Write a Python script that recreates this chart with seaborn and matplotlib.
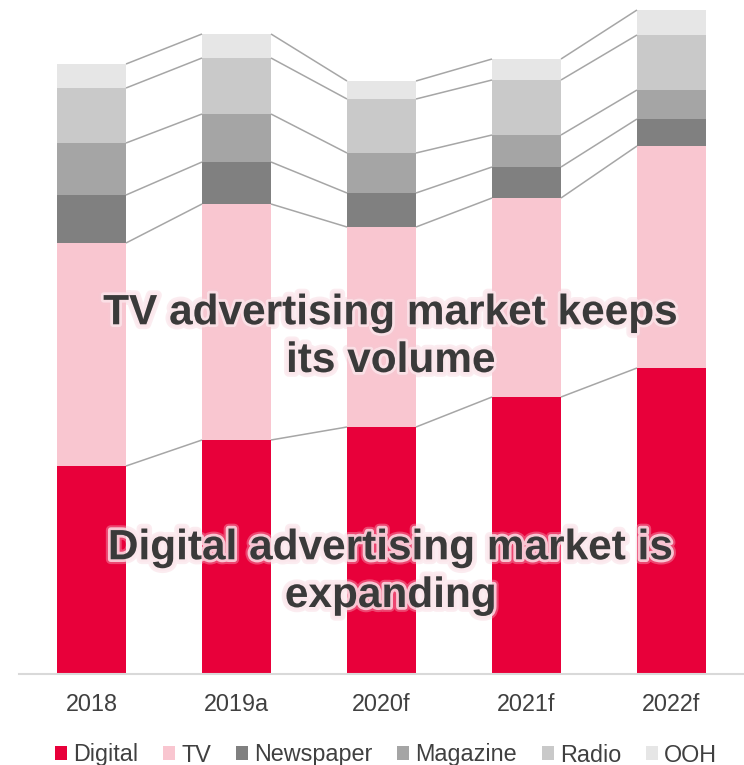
import matplotlib
matplotlib.use("Agg")
import matplotlib.pyplot as plt
import matplotlib.patheffects as pe
from matplotlib.patches import Patch
import numpy as np
import pandas as pd
import seaborn as sns

# Advertising spend by media (stacked), years with actual/forecast flags
years = ["2018", "2019a", "2020f", "2021f", "2022f"]
series_names = ["Digital", "TV", "Newspaper", "Magazine", "Radio", "OOH"]
digital = [20.8, 23.4, 24.7, 27.7, 30.6]
tv = [22.3, 23.6, 20.0, 19.9, 22.2]
newspaper = [4.8, 4.2, 3.4, 3.1, 2.7]
magazine = [5.2, 4.8, 4.0, 3.2, 2.9]
radio = [5.5, 5.6, 5.4, 5.5, 5.5]
ooh = [2.4, 2.4, 1.8, 2.1, 2.5]

colors = ["#E8003A", "#F9C6D0", "#808080", "#A5A5A5", "#C9C9C9", "#E6E6E6"]
annot_tv = "TV advertising market keeps\nits volume"
annot_digital = "Digital advertising market is\nexpanding"

sns.set_theme(style="white")
plt.rcParams["font.family"] = ["Liberation Sans", "DejaVu Sans"]

df = pd.DataFrame(
    {"year": years, "Digital": digital, "TV": tv, "Newspaper": newspaper,
     "Magazine": magazine, "Radio": radio, "OOH": ooh}
)
cum = df[series_names].cumsum(axis=1)

fig = plt.figure(figsize=(7.44, 7.65), dpi=100)
ax = fig.add_axes([19 / 744, 91 / 765, 725 / 744, 674 / 765])

bar_w = 0.476
# Draw cumulative totals from the top series down so each segment shows
for name, col in reversed(list(zip(series_names, colors))):
    sns.barplot(x=df["year"], y=cum[name], color=col, saturation=1,
                width=bar_w, errorbar=None, ax=ax, linewidth=0)

# Connector lines between the segment boundaries of neighbouring bars
n = len(years)
for name in series_names:
    vals = cum[name].to_numpy()
    for i in range(n - 1):
        ax.plot([i + bar_w / 2, i + 1 - bar_w / 2], [vals[i], vals[i + 1]],
                color="#A6A6A6", lw=1.1, solid_capstyle="butt", zorder=1)

ax.set_xlim(-0.5, 4.5)
ax.set_ylim(0, 67.4)
ax.set_xlabel("")
ax.set_ylabel("")
ax.set_yticks([])
for s in ["top", "right", "left"]:
    ax.spines[s].set_visible(False)
ax.spines["bottom"].set_color("#D9D9D9")
ax.spines["bottom"].set_linewidth(1.5)
ax.tick_params(axis="x", length=0, pad=14, labelsize=16.8, labelcolor="#404040")

glow = [pe.Stroke(linewidth=7, foreground="#F6CBD5", alpha=0.35),
        pe.Stroke(linewidth=4, foreground="#FCE6EB", alpha=0.8),
        pe.Normal()]
text_x = (391 - 19) / 145 - 0.5
# y given as baseline of the last line (pixels from top)
for label, ybase in [(annot_tv, 372), (annot_digital, 607)]:
    t = ax.text(text_x, (674 - ybase) / 10, label, ha="center", va="baseline",
                fontsize=30.5, fontweight="bold", color="#3A3A3A",
                linespacing=1.25, multialignment="center", zorder=5)
    t.set_path_effects(glow)

handles = [Patch(facecolor=c, edgecolor="none", label=nm)
           for nm, c in zip(series_names, colors)]
fig.legend(handles=handles, loc="center", bbox_to_anchor=(386 / 744, 1 - 755 / 765),
           ncol=6, frameon=False, fontsize=16.8, handlelength=0.51,
           handleheight=0.51, handletextpad=0.26, columnspacing=1.07,
           borderpad=0, labelcolor="#404040")

fig.savefig("out.png", dpi=100)
